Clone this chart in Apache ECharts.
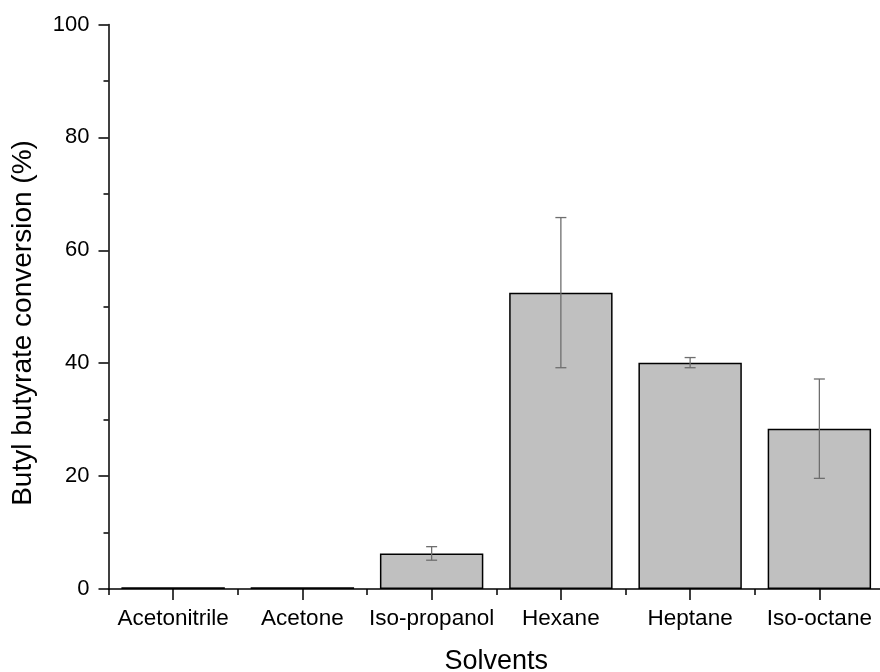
<!DOCTYPE html>
<html>
<head>
<meta charset="utf-8">
<title>Butyl butyrate conversion by solvent</title>
<script src="https://cdn.jsdelivr.net/npm/echarts@6/dist/echarts.min.js"></script>
<style>
  html, body { margin: 0; padding: 0; background: #ffffff; }
  #chart { width: 880px; height: 672px; }
</style>
</head>
<body>
<div id="chart"></div>
<script>
// Solvents tested
const solvents = ['Acetonitrile', 'Acetone', 'Iso-propanol', 'Hexane', 'Heptane', 'Iso-octane'];
// Mean conversion (%) per solvent
const conversion = [0.3, 0.3, 6.3, 52.5, 40.1, 28.4];
// Standard deviation (%) per solvent
const stdDev = [0, 0, 1.2, 13.3, 0.9, 8.8];
// Value-axis ticks
const yTicks = [0, 20, 40, 60, 80, 100];

const FONT = '"Liberation Sans", Arial, sans-serif';

// [category index, low, high] rows for the error whiskers
const errorRows = conversion.map((v, i) => [i, v - stdDev[i], v + stdDev[i]]);

const chart = echarts.init(document.getElementById('chart'), null, { renderer: 'canvas' });

chart.setOption({
  animation: false,
  backgroundColor: '#ffffff',
  grid: {
    left: 108.5,
    top: 24.5,
    width: 775.5,
    height: 564.5,
    outerBoundsMode: 'none',
    containLabel: false
  },
  xAxis: [
    {
      type: 'category',
      data: solvents,
      name: 'Solvents',
      nameLocation: 'middle',
      nameGap: 59,
      nameTextStyle: { fontFamily: FONT, fontSize: 27, color: '#000' },
      axisLine: { show: true, lineStyle: { color: '#000', width: 1.5 } },
      axisTick: { show: true, alignWithLabel: true, inside: false, length: 11, lineStyle: { color: '#000', width: 1.5 } },
      axisLabel: { fontFamily: FONT, fontSize: 22.5, color: '#000', margin: 18, interval: 0 },
      splitLine: { show: false }
    },
    {
      // boundary ticks between categories
      type: 'category',
      data: solvents,
      position: 'bottom',
      axisLine: { show: false },
      axisTick: { show: true, alignWithLabel: false, length: 6, lineStyle: { color: '#000', width: 1.5 } },
      axisLabel: { show: false },
      splitLine: { show: false }
    }
  ],
  yAxis: {
    type: 'value',
    min: yTicks[0],
    max: yTicks[yTicks.length - 1],
    interval: yTicks[1] - yTicks[0],
    axisLine: { show: true, lineStyle: { color: '#000', width: 1.5 } },
    axisTick: { show: true, inside: false, length: 10, lineStyle: { color: '#000', width: 1.5 } },
    minorTick: { show: true, splitNumber: 2, length: 5, lineStyle: { color: '#000', width: 1.5 } },
    axisLabel: { fontFamily: FONT, fontSize: 22, color: '#000', margin: 19 },
    splitLine: { show: false },
    minorSplitLine: { show: false }
  },
  graphic: [
    {
      type: 'text',
      x: 23,
      y: 323,
      rotation: Math.PI / 2,
      style: {
        text: 'Butyl butyrate conversion (%)',
        font: '28px ' + FONT,
        fill: '#000',
        textAlign: 'center',
        textVerticalAlign: 'middle'
      }
    }
  ],
  series: [
    {
      type: 'bar',
      data: conversion,
      barCategoryGap: '20%',
      itemStyle: { color: '#c0c0c0', borderColor: '#000', borderWidth: 1.5 },
      z: 2
    },
    {
      type: 'custom',
      data: errorRows,
      z: 3,
      renderItem: function (params, api) {
        const idx = api.value(0);
        const lo = api.value(1);
        const hi = api.value(2);
        if (hi - lo <= 0) return null;
        const top = api.coord([idx, hi]);
        const bot = api.coord([idx, lo]);
        const half = 5.5;
        const style = { stroke: '#6e6e6e', lineWidth: 1.3 };
        return {
          type: 'group',
          children: [
            { type: 'line', shape: { x1: top[0], y1: top[1], x2: bot[0], y2: bot[1] }, style: style },
            { type: 'line', shape: { x1: top[0] - half, y1: top[1], x2: top[0] + half, y2: top[1] }, style: style },
            { type: 'line', shape: { x1: bot[0] - half, y1: bot[1], x2: bot[0] + half, y2: bot[1] }, style: style }
          ]
        };
      }
    }
  ]
});
</script>
</body>
</html>
